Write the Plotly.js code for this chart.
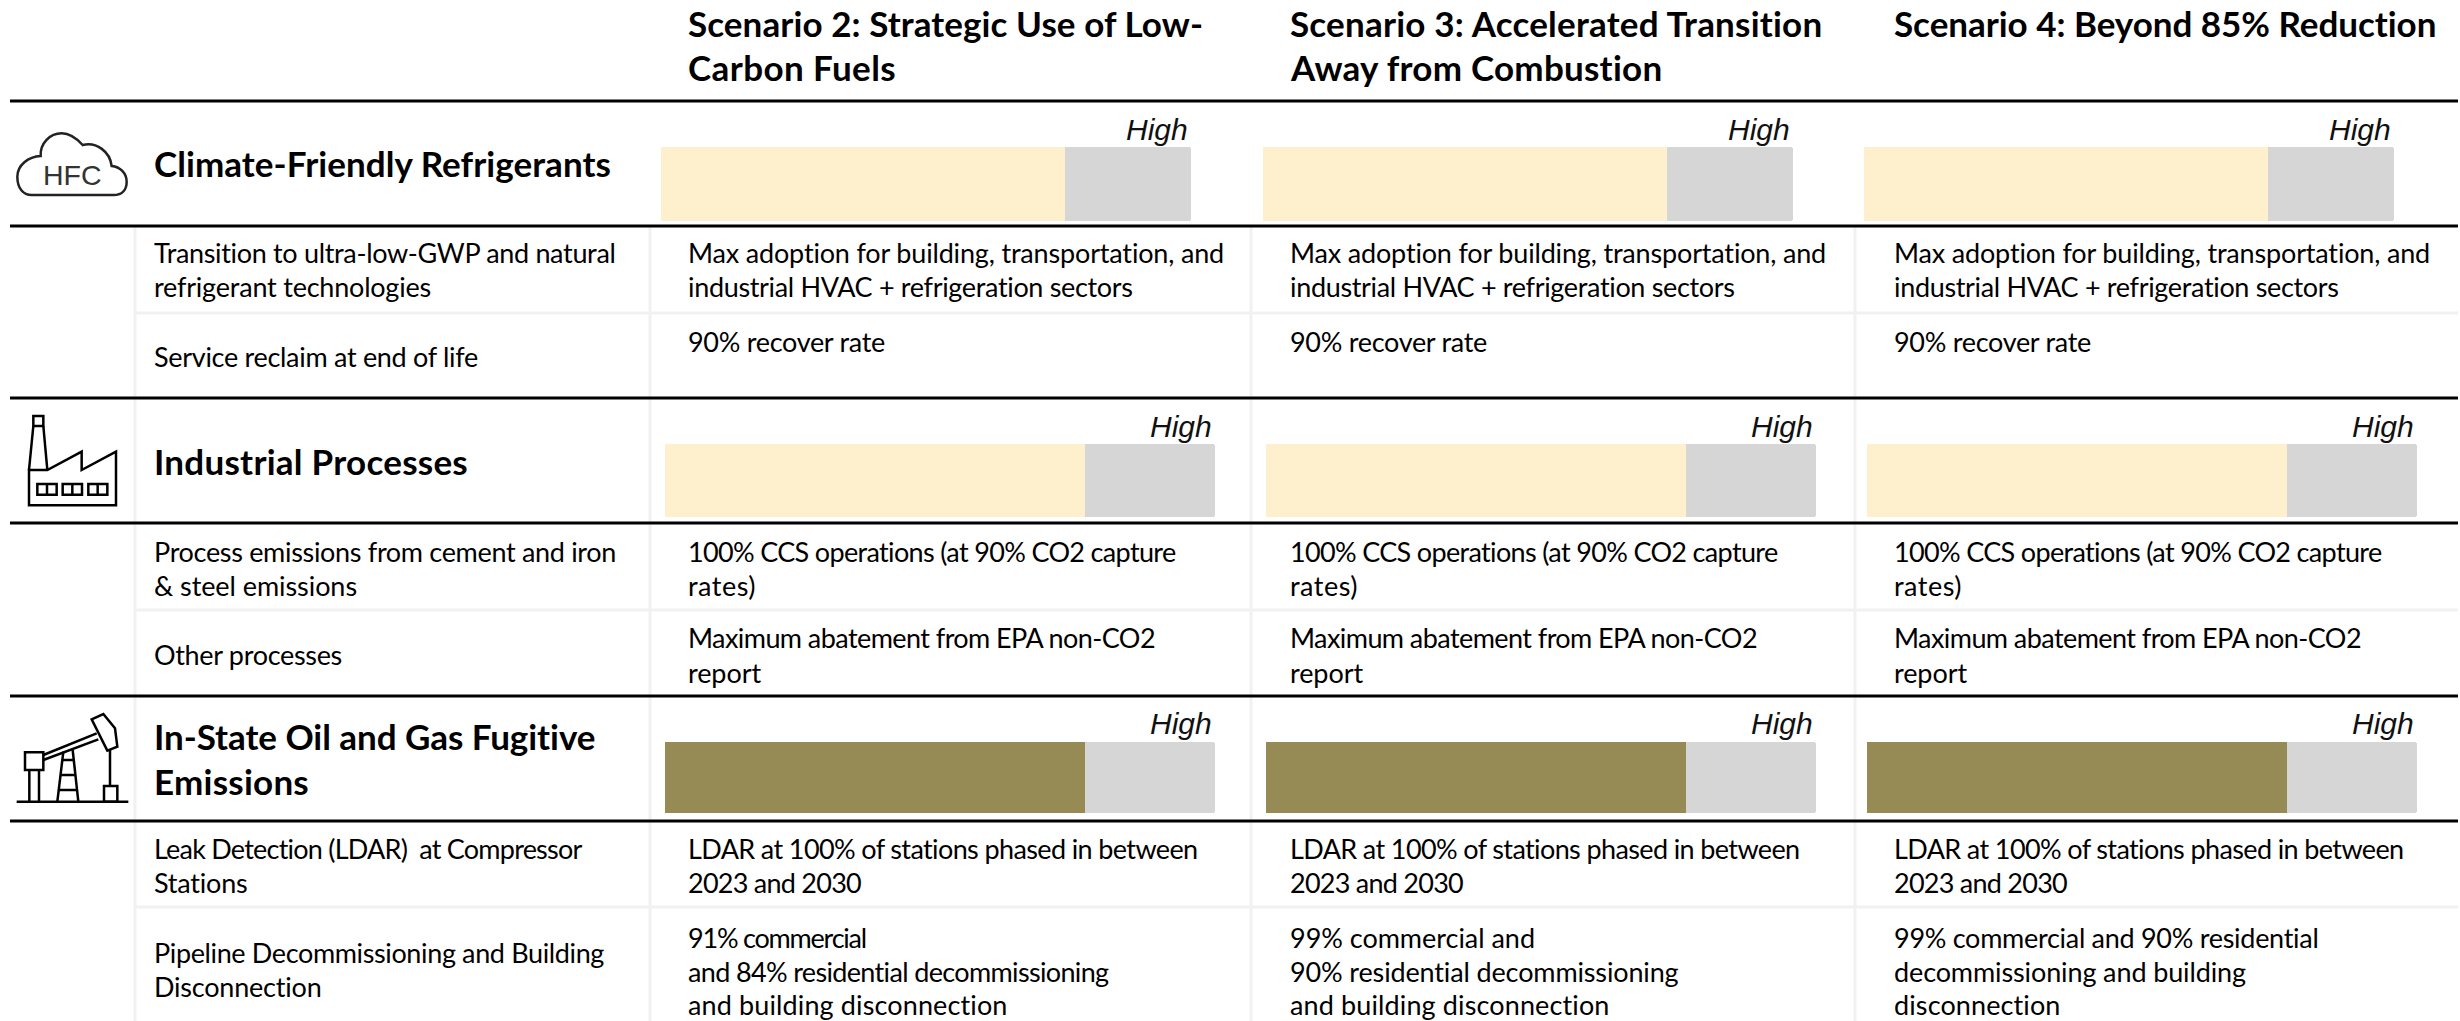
<!DOCTYPE html>
<html><head><meta charset="utf-8">
<script src="https://cdn.plot.ly/plotly-3.0.1.min.js"></script>
<style>
html,body{margin:0;padding:0;background:#fff}
#chart{width:2460px;height:1021px}
</style></head><body><div id="chart"></div>
<script>
// ---------- data ----------
const scenarios = ["Scenario 2: Strategic Use of Low-<br>Carbon Fuels","Scenario 3: Accelerated Transition<br>Away from Combustion","Scenario 4: Beyond 85% Reduction"];
const sectors = ["Climate-Friendly Refrigerants","Industrial Processes","In-State Oil and Gas Fugitive<br>Emissions"];
const ambitionRefrigerants = [76.3,76.3,76.3];
const ambitionIndustrial = [76.3,76.3,76.3];
const ambitionFugitive = [76.3,76.3,76.3];
const scaleMax = 100;
const scaleLabel = "High";
const measures = ["Transition to ultra-low-GWP and natural<br>refrigerant technologies","Service reclaim at end of life",
  "Process emissions from cement and iron<br>& steel emissions","Other processes",
  "Leak Detection (LDAR)  at Compressor<br>Stations","Pipeline Decommissioning and Building<br>Disconnection"];
const detailsScenario2 = ["Max adoption for building, transportation, and<br>industrial HVAC + refrigeration sectors","90% recover rate",
  "100% CCS operations (at 90% CO2 capture<br>rates)","Maximum abatement from EPA non-CO2<br>report",
  "LDAR at 100% of stations phased in between<br>2023 and 2030","91% commercial<br>and 84% residential decommissioning<br>and building disconnection"];
const detailsScenario3 = ["Max adoption for building, transportation, and<br>industrial HVAC + refrigeration sectors","90% recover rate",
  "100% CCS operations (at 90% CO2 capture<br>rates)","Maximum abatement from EPA non-CO2<br>report",
  "LDAR at 100% of stations phased in between<br>2023 and 2030","99% commercial and<br>90% residential decommissioning<br>and building disconnection"];
const detailsScenario4 = ["Max adoption for building, transportation, and<br>industrial HVAC + refrigeration sectors","90% recover rate",
  "100% CCS operations (at 90% CO2 capture<br>rates)","Maximum abatement from EPA non-CO2<br>report",
  "LDAR at 100% of stations phased in between<br>2023 and 2030","99% commercial and 90% residential<br>decommissioning and building<br>disconnection"];

// ---------- layout constants (page pixels) ----------
const W=2460,H=1021;
const px=x=>x/W, py=y=>1-y/H;
const FONT="Lato, 'Noto Sans', sans-serif", ARIAL="'Liberation Sans', Arial, sans-serif";
const colX=[687,1289,1893];
const barBoxes=[
 {y:[147,221],x:[[661,1191],[1263,1793],[1864,2394]]},
 {y:[444,517],x:[[665,1215],[1266,1816],[1867,2417]]},
 {y:[742,813],x:[[665,1215],[1266,1816],[1867,2417]]}];
const fillColors=["#FEF0CC","#FEF0CC","#968B55"];
const restColor="#D6D6D6";
const ambition=[ambitionRefrigerants,ambitionIndustrial,ambitionFugitive];
const highY=[129,426,723];
const sectorY=[[163],[461],[736,781]];
const measureY=[[252,287],[356],[551,585],[654],[848,882],[952,986]];
const detailY=[[252,287],[341],[551,585],[637,672],[848,882],[937,971,1004]];
const titleY=[23,67];
const detailCols=[detailsScenario2,detailsScenario3,detailsScenario4];
// rendered width of each text line in the reference, in pixels
const lineWidths={
 "Scenario 2: Strategic Use of Low-":513,"Carbon Fuels":206,"Scenario 3: Accelerated Transition":531,"Away from Combustion":370,"Scenario 4: Beyond 85% Reduction":541,
 "Climate-Friendly Refrigerants":455,"Industrial Processes":312,"In-State Oil and Gas Fugitive":440,"Emissions":153,
 "Transition to ultra-low-GWP and natural":460,"refrigerant technologies":275,"Service reclaim at end of life":322,
 "Process emissions from cement and iron":460,"& steel emissions":201,"Other processes":186,
 "Leak Detection (LDAR)  at Compressor":426,"Stations":92,"Pipeline Decommissioning and Building":448,"Disconnection":166,
 "Max adoption for building, transportation, and":535,"industrial HVAC + refrigeration sectors":443,"90% recover rate":195,
 "100% CCS operations (at 90% CO2 capture":486,"rates)":66,"Maximum abatement from EPA non-CO2":465,"report":71,
 "LDAR at 100% of stations phased in between":508,"2023 and 2030":171,"91% commercial":176,
 "and 84% residential decommissioning":419,"and building disconnection":318,"99% commercial and":243,
 "90% residential decommissioning":387,"99% commercial and 90% residential":423,"decommissioning and building":350,"disconnection":165};

// ---------- traces + axes ----------
const traces=[], layoutAxes={};
let n=2;
barBoxes.forEach((b,s)=>{
  b.x.forEach((xr,c)=>{
    const xa='xaxis'+n, ya='yaxis'+n;
    layoutAxes[xa]={domain:[px(xr[0]),px(xr[1])],range:[0,scaleMax],visible:false,fixedrange:true,anchor:'y'+n};
    layoutAxes[ya]={domain:[py(b.y[1]),py(b.y[0])],range:[-0.5,0.5],type:'category',visible:false,fixedrange:true,anchor:'x'+n};
    const cat=sectors[s].replace('<br>',' ');
    traces.push({type:'bar',orientation:'h',x:[ambition[s][c]],y:[cat],xaxis:'x'+n,yaxis:'y'+n,
      marker:{color:fillColors[s],line:{width:0}},name:scenarios[c].replace('<br>',' '),showlegend:false,hoverinfo:'skip'});
    traces.push({type:'bar',orientation:'h',x:[scaleMax-ambition[s][c]],y:[cat],xaxis:'x'+n,yaxis:'y'+n,
      marker:{color:restColor,line:{width:0}},name:'Remaining',showlegend:false,hoverinfo:'skip'});
    n++;
  });
});

// ---------- text ----------
const ann=[];
function put(text,x,y,size,opts={}){
  ann.push(Object.assign({xref:'paper',yref:'paper',x:px(x),y:py(y),text,showarrow:false,xanchor:'left',yanchor:'middle',
    align:'left',borderpad:0,font:{family:FONT,size,color:'#000'}},opts));
}
function block(text,x,ys,size,bold){
  text.split('<br>').forEach((l,i)=>put(bold?'<b>'+l+'</b>':l,x,ys[i],size));
}
scenarios.forEach((t,c)=>block(t,colX[c],titleY,35,true));
sectors.forEach((t,s)=>block(t,153,sectorY[s],35,true));
measures.forEach((t,i)=>block(t,153,measureY[i],27,false));
detailCols.forEach((col,c)=>col.forEach((t,i)=>block(t,colX[c],detailY[i],27,false)));
barBoxes.forEach((b,s)=>b.x.forEach(xr=>put(scaleLabel,xr[1]-2,highY[s],30,
  {xanchor:'right',font:{family:ARIAL,size:30,style:'italic',color:'#111'}})));
put("HFC",72.5,175,28.5,{xanchor:'center',font:{family:ARIAL,size:28.5,color:'#333'}});

// ---------- rules + icons ----------
const shapes=[];
function hline(y,x0,x1,w,c){shapes.push({type:'line',layer:'below',xref:'paper',yref:'paper',x0:px(x0),x1:px(x1),y0:py(y),y1:py(y),line:{color:c,width:w}});}
function vline(x,y0,y1,w,c){shapes.push({type:'line',layer:'below',xref:'paper',yref:'paper',x0:px(x),x1:px(x),y0:py(y0),y1:py(y1),line:{color:c,width:w}});}
[135,650,1251,1855].forEach(x=>vline(x,226,H,3,'#F1F1F1'));
[313,610,907].forEach(y=>hline(y,135,2458,3,'#F1F1F1'));
[101,226,398,523,696,821].forEach(y=>hline(y,10,2458,3,'#000'));
function icon(path,x0,y0,width,color){
  const d=path.replace(/(-?[\d.]+) (-?[\d.]+)/g,(m,a,b)=>px(x0+a/3)+' '+py(y0+b/3));
  shapes.push({type:'path',xref:'paper',yref:'paper',path:d,line:{color:color,width:width},fillcolor:'rgba(0,0,0,0)'});
}
icon("M95 255 L340 255 C370 255 380 235 380 215 C380 190 360 170 335 168 C330 125 290 95 248 105 C225 80 205 70 185 70 C150 70 120 100 122 138 C85 140 52 165 52 200 C52 235 70 255 95 255 Z",0,110,2.5,'#222');
["M100 48 L130 48 L130 78 L100 78 Z","M100 78 L87 210","M130 78 L142 210",
 "M87 210 L87 316 L348 316 L348 155 L245 210 L245 155 L142 210 Z",
 "M112 252 L170 252 L170 284 L112 284 Z","M141 252 L141 284",
 "M188 252 L246 252 L246 284 L188 284 Z","M217 252 L217 284",
 "M265 252 L322 252 L322 284 L265 284 Z","M293 252 L293 284"].forEach(p=>icon(p,0,400,2.5,'#000'));
["M50 305 L385 305","M75 157 L130 157 L130 210 L75 210 Z","M88 210 L88 305","M117 210 L117 305",
 "M130 165 L290 100","M130 180 L295 118","M275 58 L310 42 L345 85 L352 140 L322 152 Z",
 "M190 155 L172 305","M218 150 L235 305","M187 180 L222 180","M180 225 L227 225","M175 270 L232 270",
 "M330 150 L330 258","M312 258 L352 258 L352 305 L312 305 Z"].forEach(p=>icon(p,0,700,2.5,'#000'));

const layout=Object.assign({width:W,height:H,margin:{l:0,r:0,t:0,b:0,pad:0},paper_bgcolor:'#fff',plot_bgcolor:'rgba(0,0,0,0)',
  barmode:'stack',bargap:0,barcornerradius:3,showlegend:false,annotations:ann,shapes:shapes},layoutAxes);
Plotly.newPlot('chart',traces,layout,{staticPlot:true,displayModeBar:false}).then(()=>{
  document.querySelectorAll('text.annotation-text').forEach(t=>{
    const s=t.textContent, target=lineWidths[s];
    if(target){ t.style.letterSpacing=((target+2-t.getComputedTextLength())/s.length).toFixed(3)+'px'; }
  });
});
</script></body></html>
